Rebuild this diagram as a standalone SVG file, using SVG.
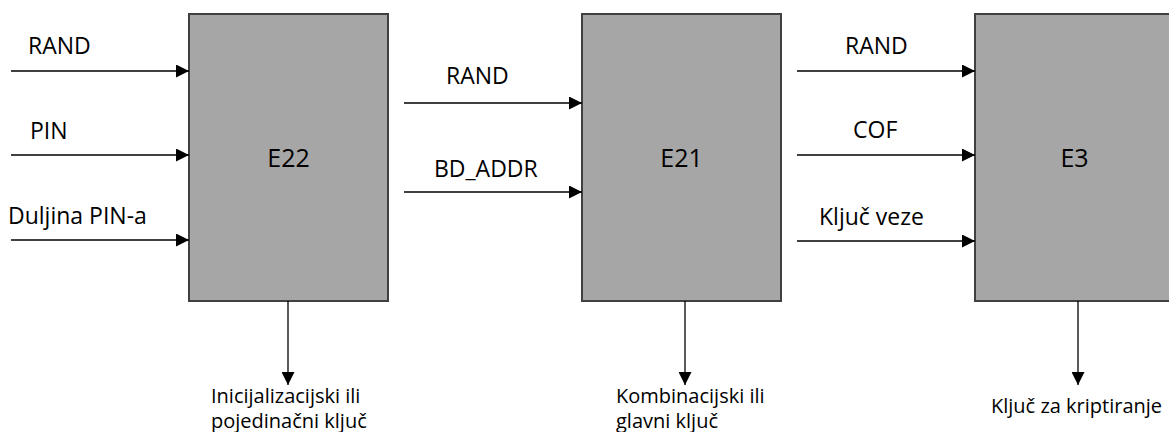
<svg xmlns="http://www.w3.org/2000/svg" width="1169" height="432" viewBox="0 0 1169 432">
<style>
.box{fill:#a6a6a6;stroke:#404040;stroke-width:2}
.lbl{font-family:"Open Sans","Liberation Sans",sans-serif;font-size:23px;fill:#000}
.big{font-family:"Open Sans","Liberation Sans",sans-serif;font-size:25px;fill:#000;text-anchor:middle}
.out{font-family:"Open Sans","Liberation Sans",sans-serif;font-size:20px;fill:#000}
.ln{stroke:#000;stroke-width:1.3;fill:none;marker-end:url(#ah)}
</style>
<defs>
<marker id="ah" markerWidth="13" markerHeight="13" refX="13" refY="6.5" orient="auto" markerUnits="userSpaceOnUse">
<path d="M0,0 L13,6.5 L0,13 Z" fill="#000"/>
</marker>
</defs>
<rect width="1169" height="432" fill="#fff"/>
<g id="E22">
<rect class="box" x="189" y="14" width="199" height="287"/>
<text class="big" x="288.5" y="167">E22</text>
</g>
<g id="E21">
<rect class="box" x="582" y="14" width="199" height="287"/>
<text class="big" x="681.5" y="167">E21</text>
</g>
<g id="E3">
<rect class="box" x="975" y="14" width="199" height="287"/>
<text class="big" x="1074.5" y="167">E3</text>
</g>
<g id="connectors">
<line class="ln" x1="11" y1="71" x2="189" y2="71"/>
<line class="ln" x1="11" y1="155" x2="189" y2="155"/>
<line class="ln" x1="11" y1="240" x2="189" y2="240"/>
<line class="ln" x1="404" y1="103" x2="582" y2="103"/>
<line class="ln" x1="404" y1="192" x2="582" y2="192"/>
<line class="ln" x1="797" y1="71" x2="975" y2="71"/>
<line class="ln" x1="797" y1="155" x2="975" y2="155"/>
<line class="ln" x1="797" y1="241" x2="975" y2="241"/>
<line class="ln" x1="288" y1="301" x2="288" y2="385"/>
<line class="ln" x1="685" y1="301" x2="685" y2="385"/>
<line class="ln" x1="1078" y1="301" x2="1078" y2="385"/>
</g>
<g id="labels">
<text class="lbl" x="28" y="54">RAND</text>
<text class="lbl" x="30" y="139">PIN</text>
<text class="lbl" x="8" y="224">Duljina PIN-a</text>
<text class="lbl" x="446" y="84">RAND</text>
<text class="lbl" x="434" y="177">BD_ADDR</text>
<text class="lbl" x="845" y="54">RAND</text>
<text class="lbl" x="853" y="138">COF</text>
<text class="lbl" x="819" y="225">Ključ veze</text>
<text class="out" x="211" y="403">Inicijalizacijski ili</text>
<text class="out" x="211" y="428">pojedinačni ključ</text>
<text class="out" x="616" y="403">Kombinacijski ili</text>
<text class="out" x="616" y="428">glavni ključ</text>
<text class="out" x="991" y="413">Ključ za kriptiranje</text>
</g>
</svg>
